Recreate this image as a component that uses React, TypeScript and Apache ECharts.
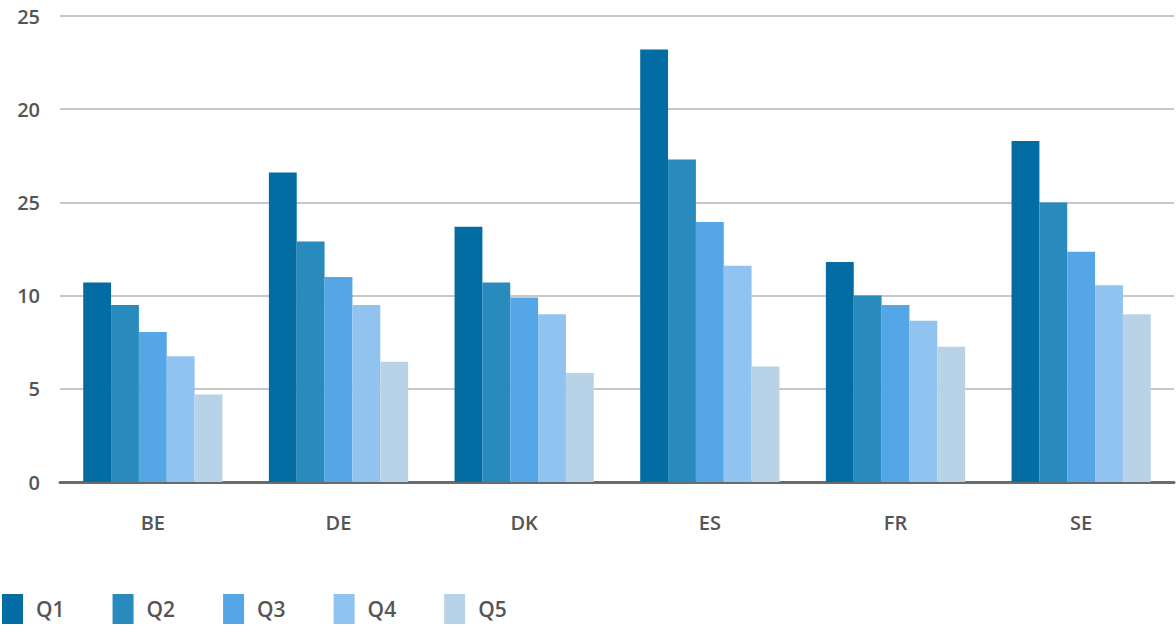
import React, { useEffect, useRef } from "react";
import * as echarts from "echarts";

const categories = ["BE", "DE", "DK", "ES", "FR", "SE"];
const seriesNames = ["Q1", "Q2", "Q3", "Q4", "Q5"];
const q1 = [10.7, 16.6, 13.7, 23.2, 11.8, 18.3];
const q2 = [9.5, 12.9, 10.7, 17.3, 10.0, 15.0];
const q3 = [8.05, 11.0, 9.9, 13.95, 9.5, 12.35];
const q4 = [6.75, 9.5, 9.0, 11.6, 8.65, 10.55];
const q5 = [4.7, 6.45, 5.85, 6.2, 7.25, 9.0];
const yTickLabels = ["0", "5", "10", "25", "20", "25"];
const colors = ["#026ca3", "#298bbd", "#54a6e6", "#90c3f0", "#b8d3e7"];

const FONT = "'Open Sans', sans-serif";

export default function App() {
  const ref = useRef<HTMLDivElement>(null);
  useEffect(() => {
    if (!ref.current) return;
    const chart = echarts.init(ref.current, null, { renderer: "svg" });
    const values = [q1, q2, q3, q4, q5];
    chart.setOption({
      animation: false,
      grid: { left: 60, right: 2, top: 16, bottom: 159, containLabel: false },
      legend: {
        left: 2,
        top: 594,
        padding: 0,
        itemWidth: 21,
        itemHeight: 30,
        itemGap: 48,
        icon: "rect",
        textStyle: {
          fontFamily: FONT,
          fontSize: 21,
          fontWeight: 600,
          color: "#555555",
          padding: [6, 0, 0, 8],
        },
        data: seriesNames,
      },
      xAxis: {
        type: "category",
        data: categories,
        axisLine: { show: true, lineStyle: { color: "#6b6b6b", width: 3 } },
        axisTick: { show: false },
        axisLabel: {
          margin: 30,
          fontFamily: FONT,
          fontSize: 20,
          fontWeight: 600,
          color: "#555555",
        },
      },
      yAxis: {
        type: "value",
        min: 0,
        max: 25,
        interval: 5,
        axisLine: { show: false },
        axisTick: { show: false },
        splitLine: { lineStyle: { color: "#b5b5b5", width: 1.5 } },
        axisLabel: {
          margin: 20,
          fontFamily: FONT,
          fontSize: 20,
          fontWeight: 600,
          color: "#555555",
          formatter: (v: number) => yTickLabels[Math.round(v / 5)] ?? String(v),
        },
      },
      series: seriesNames.map((name, i) => ({
        name,
        type: "bar",
        data: values[i],
        barGap: "0%",
        barCategoryGap: "25%",
        itemStyle: { color: colors[i] },
      })),
    });
    return () => chart.dispose();
  }, []);
  return (
    <div
      ref={ref}
      style={{ position: "fixed", left: 0, top: 0, width: 1176, height: 641, background: "#fff" }}
    />
  );
}
